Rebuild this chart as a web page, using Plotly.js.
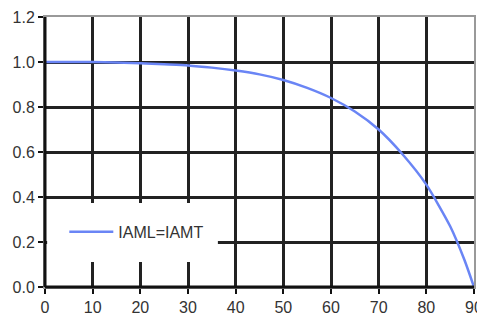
<!DOCTYPE html>
<html><head><meta charset="utf-8">
<script src="https://cdn.plot.ly/plotly-3.0.1.min.js"></script>
<style>html,body{margin:0;padding:0;background:#fff}#chart{width:477px;height:320px}</style>
</head><body><div id="chart"></div>
<script>
const angle = [0, 10, 20, 25, 30, 35, 40, 45, 50, 55, 60, 65, 70, 75, 80, 85, 88, 90];
const iam = [1.0, 1.0, 0.995, 0.99, 0.985, 0.975, 0.962, 0.945, 0.92, 0.885, 0.84, 0.78, 0.70, 0.59, 0.455, 0.27, 0.12, 0.0];
const seriesName = 'IAML=IAMT';
const xTicks = [0, 10, 20, 30, 40, 50, 60, 70, 80, 90];
const yTicks = [0.0, 0.2, 0.4, 0.6, 0.8, 1.0, 1.2];
const yTickText = ['0.0', '0.2', '0.4', '0.6', '0.8', '1.0', '1.2'];

const fnt = {family: '"Liberation Sans", Arial, sans-serif', size: 16, color: '#333'};
const data = [{
  x: angle, y: iam, type: 'scatter', mode: 'lines', name: seriesName,
  line: {color: '#6a85f5', width: 2.5, shape: 'spline', smoothing: 0.6}
}];
const axBase = {showgrid: true, gridcolor: '#222', gridwidth: 3,
  showline: true, mirror: true, linecolor: '#999', linewidth: 2, zeroline: false,
  ticks: 'outside', ticklen: 5, tickwidth: 2, tickcolor: '#111', tickfont: fnt, ticklabeloverflow: 'allow'};
const layout = {
  width: 477, height: 320,
  margin: {l: 45, r: 3, t: 17, b: 33},
  paper_bgcolor: '#fff', plot_bgcolor: '#fff',
  font: fnt,
  showlegend: true,
  legend: {x: 0.045, y: 0.204, xanchor: 'left', yanchor: 'middle', bgcolor: 'rgba(0,0,0,0)', font: fnt, itemwidth: 44},
  xaxis: Object.assign({range: [0, 90], tickvals: xTicks, ticktext: xTicks.map(String)}, axBase),
  yaxis: Object.assign({range: [0, 1.2], tickvals: yTicks, ticktext: yTickText}, axBase),
  shapes: [
    {type: 'rect', xref: 'paper', yref: 'paper', x0: 0.005, x1: 0.403, y0: 0.093, y1: 0.311, fillcolor: '#fff', line: {width: 0}, layer: 'above'},
    {type: 'line', xref: 'paper', yref: 'paper', x0: 0, x1: 0, y0: 0, y1: 1, line: {color: '#111', width: 3}, layer: 'above'},
    {type: 'line', xref: 'paper', yref: 'paper', x0: 0, x1: 1, y0: 0, y1: 0, line: {color: '#111', width: 3}, layer: 'above'}
  ]
};
Plotly.newPlot('chart', data, layout, {displayModeBar: false, staticPlot: true});
</script></body></html>
